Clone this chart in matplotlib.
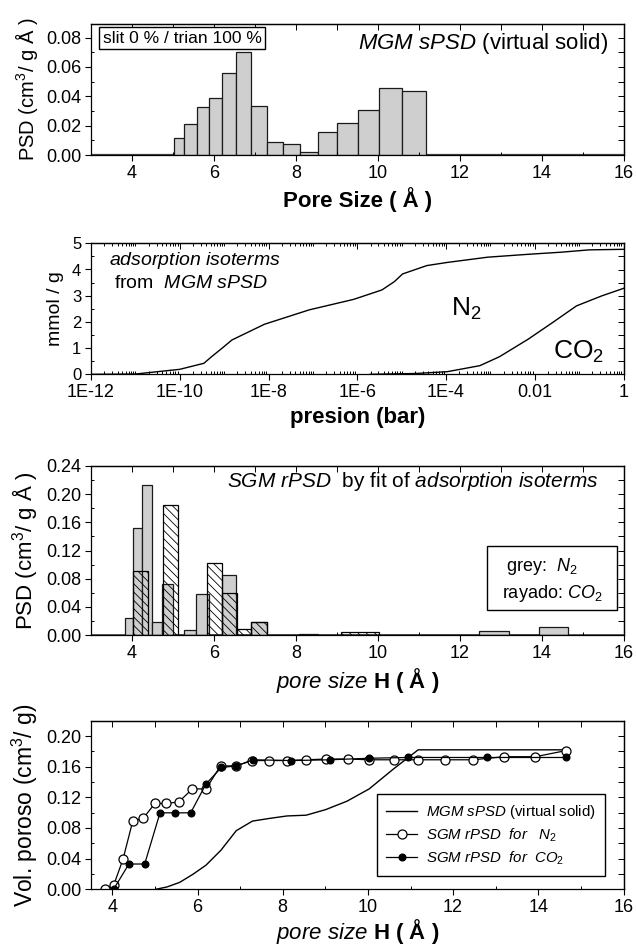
import matplotlib
matplotlib.use("Agg")
import matplotlib.pyplot as plt
from matplotlib.patches import Rectangle
from matplotlib.ticker import MultipleLocator, FixedLocator, LogLocator, NullFormatter
import numpy as np

plt.rcParams['font.family'] = 'Liberation Sans'
plt.rcParams['mathtext.fontset'] = 'custom'
plt.rcParams['mathtext.rm'] = 'Liberation Sans'
plt.rcParams['mathtext.it'] = 'Liberation Sans:italic'
plt.rcParams['mathtext.bf'] = 'Liberation Sans:bold'
plt.rcParams['hatch.linewidth'] = 0.6
plt.rcParams['axes.linewidth'] = 0.9

# panel 1: MGM sPSD histogram (bin edges / heights)
mgm_edges = [5.02, 5.28, 5.58, 5.89, 6.20, 6.55, 6.91, 7.29, 7.69, 8.10,
             8.55, 9.01, 9.51, 10.03, 10.60, 11.18]
mgm_psd = [0.0114, 0.0209, 0.033, 0.0386, 0.0557, 0.0705, 0.0334, 0.0086,
           0.0077, 0.0023, 0.0157, 0.0216, 0.0307, 0.0457, 0.0434]

# panel 2: isotherms
n2_p = [1e-12, 1e-11, 1e-10, 3.5e-10, 5.2e-10, 8.9e-10, 1.5e-9, 8.1e-9, 8.3e-8,
        8.3e-7, 3.6e-6, 6.9e-6, 1.05e-5, 3.7e-5, 1.07e-4, 8.7e-4, 7.1e-3,
        3.9e-2, 0.17, 1.0]
n2_q = [0.0, 0.01, 0.19, 0.42, 0.67, 0.99, 1.31, 1.91, 2.46, 2.86, 3.22, 3.54,
        3.83, 4.15, 4.27, 4.47, 4.58, 4.66, 4.75, 4.77]
co2_p = [1.95e-6, 2e-5, 1.07e-4, 5.8e-4, 1.6e-3, 7.1e-3, 2.5e-2, 8.7e-2, 0.32, 1.0]
co2_q = [0.0, 0.03, 0.10, 0.33, 0.67, 1.34, 1.97, 2.61, 2.99, 3.28]

# panel 3: SGM rPSD bars
n2_edges = [3.82, 4.03, 4.25, 4.48, 4.73, 5.0, 5.27, 5.56, 5.88, 6.2, 6.54, 6.9,
            7.29, 7.67, 8.09, 8.55, 9.02, 9.53, 10.03, 10.61, 11.18, 11.81,
            12.47, 13.2, 13.93, 14.65]
n2_psd = [0.024, 0.1515, 0.213, 0.019, 0.072, 0.0, 0.0066, 0.0578, 0.0, 0.085,
          0.0, 0.019, 0.0, 0.0, 0.0015, 0.0, 0.0, 0.0, 0.0, 0.0, 0.0, 0.0,
          0.0055, 0.0, 0.011]
co2_edges = [4.03, 4.39, 4.76, 5.12, 5.48, 5.84, 6.2, 6.56, 6.91, 7.3, 8.2, 9.11,
             10.02, 10.95, 11.87, 12.8, 13.72, 14.65]
co2_psd = [0.091, 0.0, 0.185, 0.0, 0.0, 0.102, 0.059, 0.008, 0.019, 0.0, 0.0,
           0.004, 0.0, 0.0, 0.0, 0.0, 0.0]

# panel 4: cumulative pore volume
mgm_cum_x = [5.02, 5.28, 5.58, 5.89, 6.20, 6.55, 6.91, 7.29, 7.69, 8.10, 8.55,
             9.01, 9.51, 10.03, 10.60, 11.18, 14.65]
mgm_cum_y = [0.0, 0.003, 0.009, 0.0195, 0.0315, 0.051, 0.0765, 0.089, 0.0925,
             0.0957, 0.0967, 0.104, 0.115, 0.131, 0.157, 0.182, 0.182]
n2_cum_x = n2_edges
n2_cum_y = [0.0, 0.005, 0.039, 0.089, 0.093, 0.112, 0.112, 0.114, 0.131, 0.131,
            0.161, 0.161, 0.168, 0.168, 0.168, 0.169, 0.170, 0.170, 0.169, 0.169,
            0.169, 0.169, 0.169, 0.173, 0.173, 0.181]
co2_cum_x = [4.03, 4.39, 4.76, 5.12, 5.48, 5.84, 6.2, 6.56, 6.91, 7.3, 8.2, 9.11,
             10.02, 10.95, 12.8, 14.65]
co2_cum_y = [0.0, 0.033, 0.033, 0.0998, 0.0998, 0.0998, 0.1375, 0.159, 0.161,
             0.169, 0.168, 0.169, 0.171, 0.172, 0.172, 0.172]

W, H = 636, 948
fig = plt.figure(figsize=(W / 100, H / 100), dpi=100)


def make_ax(top, bottom, left=91, right=623.5):
    return fig.add_axes([left / W, 1 - bottom / H, (right - left) / W, (bottom - top) / H])


def style(ax):
    ax.tick_params(which='major', direction='out', length=4, width=0.8,
                   top=False, right=False, labelsize=13, pad=3)
    ax.tick_params(which='minor', direction='in', length=2.5, width=0.7,
                   top=False, right=False)
    sx = ax.secondary_xaxis('top')
    sy = ax.secondary_yaxis('right')
    for s in (sx, sy):
        s.tick_params(which='both', direction='in', labelleft=False, labelright=False,
                      labeltop=False, labelbottom=False, width=0.7)
        s.tick_params(which='major', length=4)
        s.tick_params(which='minor', length=2.5)
    return sx, sy


gray = '#cfcfcf'

# ---------- panel 1
ax1 = make_ax(24, 155)
ax1.bar(mgm_edges[:-1], mgm_psd, width=np.diff(mgm_edges), align='edge',
        color=gray, edgecolor='#1a1a1a', linewidth=0.9)
ax1.axhline(0, color='#444444', lw=1.6, zorder=0)
ax1.set_xlim(3, 16)
ax1.set_ylim(0, 0.0893)
ax1.xaxis.set_major_locator(MultipleLocator(2))
ax1.xaxis.set_minor_locator(MultipleLocator(1))
ax1.yaxis.set_major_locator(MultipleLocator(0.02))
ax1.yaxis.set_minor_locator(MultipleLocator(0.01))
ax1.yaxis.set_major_formatter(plt.FormatStrFormatter('%.2f'))
sx, sy = style(ax1)
sx.xaxis.set_major_locator(MultipleLocator(1))
sy.yaxis.set_major_locator(MultipleLocator(0.01))
ax1.set_ylabel('PSD (cm$^\\mathregular{3}$/ g Å )', fontsize=14.5, labelpad=4)
ax1.set_xlabel('Pore Size ( Å )', fontsize=16, fontweight='bold', labelpad=4)
ax1.text(0.022, 0.893, 'slit 0 % / trian 100 %', transform=ax1.transAxes,
         fontsize=12.5, va='center', ha='left',
         bbox=dict(boxstyle='square,pad=0.22', fc='white', ec='black', lw=1))
ax1.text(0.972, 0.853, r'$\mathit{MGM\ sPSD}$ (virtual solid)', transform=ax1.transAxes,
         fontsize=16, va='center', ha='right')

# ---------- panel 2
ax2 = make_ax(243.3, 374.3)
ax2.plot(n2_p, n2_q, color='black', lw=1.0)
ax2.plot(co2_p, co2_q, color='black', lw=1.0)
ax2.set_xscale('log')
ax2.set_xlim(1e-12, 1)
ax2.set_ylim(0, 5)
ptick = [1e-12, 1e-10, 1e-8, 1e-6, 1e-4, 1e-2, 1]
ax2.xaxis.set_major_locator(FixedLocator(ptick))
ax2.set_xticklabels(['1E-12', '1E-10', '1E-8', '1E-6', '1E-4', '0.01', '1'])
ax2.xaxis.set_minor_locator(LogLocator(base=10, subs=np.arange(1, 10), numticks=100))
ax2.xaxis.set_minor_formatter(NullFormatter())
ax2.yaxis.set_major_locator(MultipleLocator(1))
ax2.yaxis.set_minor_locator(MultipleLocator(0.5))
sx, sy = style(ax2)
sx.xaxis.set_major_locator(FixedLocator(ptick))
sx.xaxis.set_minor_locator(LogLocator(base=10, subs=np.arange(1, 10), numticks=100))
sy.yaxis.set_major_locator(MultipleLocator(0.5))
ax2.tick_params(axis='y', labelsize=12)
ax2.set_ylabel('mmol / g', fontsize=14, labelpad=6)
ax2.set_xlabel('presion (bar)', fontsize=16, fontweight='bold', labelpad=4)
ax2.text(0.033, 0.87, r'$\mathit{adsorption\ isoterms}$', transform=ax2.transAxes,
         fontsize=14, va='center', ha='left')
ax2.text(0.043, 0.695, r'from  $\mathit{MGM\ sPSD}$', transform=ax2.transAxes,
         fontsize=14, va='center', ha='left')
ax2.text(0.705, 0.5, 'N$_\\mathregular{2}$', transform=ax2.transAxes,
         fontsize=19, va='center', ha='center')
ax2.text(0.915, 0.17, 'CO$_\\mathregular{2}$', transform=ax2.transAxes,
         fontsize=19, va='center', ha='center')

# ---------- panel 3
ax3 = make_ax(466, 635)
ax3.bar(n2_edges[:-1], n2_psd, width=np.diff(n2_edges), align='edge',
        color=gray, edgecolor='#1a1a1a', linewidth=0.9, zorder=2)
ax3.bar(co2_edges[:-1], co2_psd, width=np.diff(co2_edges), align='edge',
        facecolor='none', edgecolor='black', hatch='\\\\\\\\', linewidth=0.9, zorder=3)
ax3.axhline(0, color='#444444', lw=1.2, zorder=1)
ax3.set_xlim(3, 16)
ax3.set_ylim(0, 0.24)
ax3.xaxis.set_major_locator(MultipleLocator(2))
ax3.xaxis.set_minor_locator(MultipleLocator(1))
ax3.yaxis.set_major_locator(MultipleLocator(0.04))
ax3.yaxis.set_minor_locator(MultipleLocator(0.02))
ax3.yaxis.set_major_formatter(plt.FormatStrFormatter('%.2f'))
sx, sy = style(ax3)
sx.xaxis.set_major_locator(MultipleLocator(1))
sy.yaxis.set_major_locator(MultipleLocator(0.02))
ax3.set_ylabel('PSD (cm$^\\mathregular{3}$/ g Å )', fontsize=16, labelpad=4)
ax3.set_xlabel(r'$\mathit{pore\ size}\ \mathbf{H\ (\ Å\ )}$', fontsize=16, labelpad=3)
ax3.text(0.953, 0.907, r'$\mathit{SGM\ rPSD}$  by fit of $\mathit{adsorption\ isoterms}$',
         transform=ax3.transAxes, fontsize=15, va='center', ha='right')
ax3.add_patch(Rectangle((0.744, 0.148), 0.244, 0.379, transform=ax3.transAxes,
                        fc='white', ec='black', lw=1, zorder=4))
ax3.text(0.846, 0.404, r'grey:  $\mathit{N_2}$', transform=ax3.transAxes,
         fontsize=13, va='center', ha='center', zorder=5)
ax3.text(0.867, 0.243, r'rayado: $\mathit{CO_2}$', transform=ax3.transAxes,
         fontsize=13, va='center', ha='center', zorder=5)

# ---------- panel 4
ax4 = make_ax(720.7, 889.3)
ax4.plot(mgm_cum_x, mgm_cum_y, color='black', lw=1.0,
         label=r'$\mathit{MGM\ sPSD}$ (virtual solid)')
ax4.plot(n2_cum_x, n2_cum_y, color='black', lw=0.9, marker='o', ms=6.5,
         mfc='white', mec='black', mew=0.9, label=r'$\mathit{SGM\ rPSD\ \ for\ \ \ N_2}$')
ax4.plot(co2_cum_x, co2_cum_y, color='black', lw=0.9, marker='o', ms=4.8,
         mfc='black', mec='black', label=r'$\mathit{SGM\ rPSD\ \ for\ \ CO_2}$')
ax4.set_xlim(3.5, 16)
ax4.set_ylim(0, 0.22)
ax4.xaxis.set_major_locator(MultipleLocator(2))
ax4.xaxis.set_minor_locator(MultipleLocator(1))
ax4.yaxis.set_major_locator(MultipleLocator(0.04))
ax4.yaxis.set_minor_locator(MultipleLocator(0.02))
ax4.yaxis.set_major_formatter(plt.FormatStrFormatter('%.2f'))
sx, sy = style(ax4)
sx.xaxis.set_major_locator(MultipleLocator(1))
sy.yaxis.set_major_locator(MultipleLocator(0.02))
ax4.set_ylabel('Vol. poroso (cm$^\\mathregular{3}$/ g)', fontsize=16.5, labelpad=4)
ax4.set_xlabel(r'$\mathit{pore\ size}\ \mathbf{H\ (\ Å\ )}$', fontsize=16, labelpad=0.5)
leg = ax4.legend(loc='lower right', bbox_to_anchor=(0.979, 0.036), fontsize=10.8,
                 frameon=True, fancybox=False, edgecolor='black', framealpha=1,
                 handlelength=2.1, labelspacing=0.35, borderpad=0.6, handletextpad=0.6)
leg.get_frame().set_linewidth(1.0)

fig.savefig('out.png', dpi=100)
